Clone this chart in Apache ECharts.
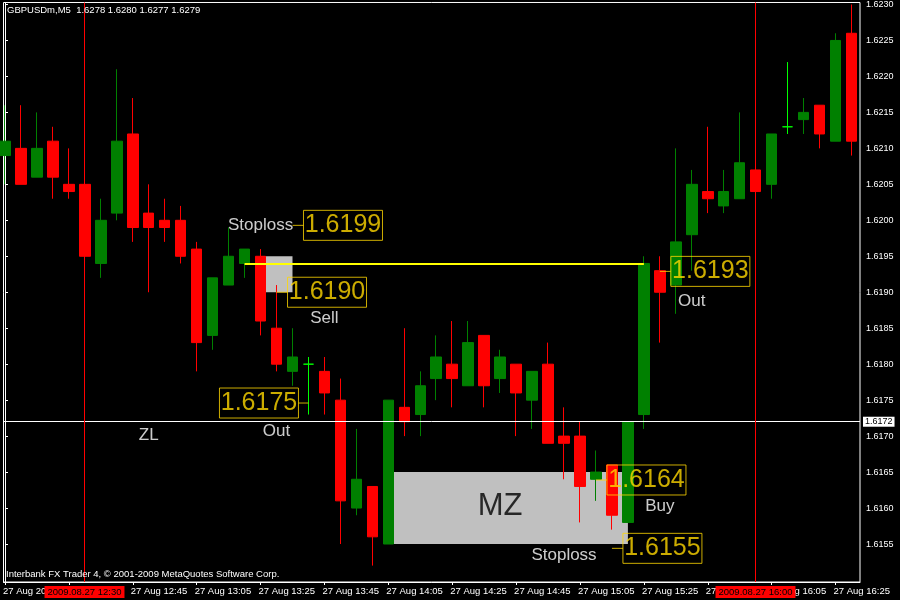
<!DOCTYPE html>
<html><head><meta charset="utf-8">
<script src="https://cdn.jsdelivr.net/npm/echarts@6/dist/echarts.min.js"></script>
<style>html,body{margin:0;padding:0;background:#000;}#chart{width:900px;height:600px;}</style>
</head><body><div id="chart"></div>
<script>
// 5-minute bars, 27 Aug 2009, 12:05 .. 16:30 (index 0..53)
const times = ['12:05','12:10','12:15','12:20','12:25','12:30','12:35','12:40','12:45','12:50','12:55','13:00','13:05','13:10','13:15','13:20','13:25','13:30','13:35','13:40','13:45','13:50','13:55','14:00','14:05','14:10','14:15','14:20','14:25','14:30','14:35','14:40','14:45','14:50','14:55','15:00','15:05','15:10','15:15','15:20','15:25','15:30','15:35','15:40','15:45','15:50','15:55','16:00','16:05','16:10','16:15','16:20','16:25','16:30'];
const opens  = [1.6209,1.6210,1.6206,1.6211,1.6205,1.6205,1.6194,1.6201,1.6212,1.6201,1.6200,1.6200,1.6196,1.6184,1.6191,1.6194,1.6195,1.6185,1.6179,1.6180,1.6179,1.6175,1.6160,1.6163,1.6155,1.6174,1.6173,1.6178,1.6180,1.6177,1.6184,1.6178,1.6180,1.6175,1.6180,1.6170,1.6170,1.6164,1.6166,1.6158,1.6173,1.6193,1.6191,1.6198,1.6204,1.6202,1.6203,1.6207,1.6205,1.6213,1.6214,1.6216,1.6211,1.6226];
const closes = [1.6211,1.6205,1.6210,1.6206,1.6204,1.6195,1.6200,1.6211,1.6199,1.6199,1.6199,1.6195,1.6183,1.6192,1.6195,1.6196,1.6186,1.6180,1.6181,1.6180,1.6176,1.6161,1.6164,1.6156,1.6175,1.6172,1.6177,1.6181,1.6178,1.6183,1.6177,1.6181,1.6176,1.6179,1.6169,1.6169,1.6163,1.6165,1.6159,1.6172,1.6194,1.6190,1.6197,1.6205,1.6203,1.6204,1.6208,1.6204,1.6212,1.6213,1.6215,1.6212,1.6225,1.6211];
const lows   = [1.6205,1.6205,1.6206,1.6203,1.6203,1.6193,1.6192,1.6200,1.6197,1.6190,1.6197,1.6194,1.6179,1.6182,1.6191,1.6192,1.6184,1.6179,1.6177,1.6173,1.6173,1.6155,1.6159,1.6152,1.6155,1.6170,1.6170,1.6175,1.6174,1.6177,1.6174,1.6176,1.6170,1.6171,1.6169,1.6164,1.6158,1.6161,1.6157,1.6158,1.6171,1.6183,1.6187,1.6193,1.6201,1.6201,1.6203,1.6203,1.6203,1.6212,1.6212,1.6210,1.6211,1.6209];
const highs  = [1.6216,1.6216,1.6215,1.6213,1.6210,1.6206,1.6203,1.6221,1.6217,1.6205,1.6203,1.6202,1.6197,1.6192,1.6199,1.6196,1.6196,1.6191,1.6185,1.6181,1.6181,1.6178,1.6171,1.6163,1.6175,1.6185,1.6179,1.6184,1.6186,1.6186,1.6184,1.6182,1.6180,1.6179,1.6183,1.6174,1.6172,1.6168,1.6166,1.6172,1.6195,1.6195,1.6210,1.6207,1.6213,1.6207,1.6215,1.6208,1.6212,1.6222,1.6217,1.6216,1.6226,1.6230];

// axis ticks / labels
const xTickIdx = [0,4,8,12,16,20,24,28,32,36,40,44,48,52];
const xTickLabels = ['27 Aug 2009','27 Aug 12:25','27 Aug 12:45','27 Aug 13:05','27 Aug 13:25','27 Aug 13:45','27 Aug 14:05','27 Aug 14:25','27 Aug 14:45','27 Aug 15:05','27 Aug 15:25','27 Aug 15:45','27 Aug 16:05','27 Aug 16:25'];
const yTicks = [1.6155,1.6160,1.6165,1.6170,1.6175,1.6180,1.6185,1.6190,1.6195,1.6200,1.6205,1.6210,1.6215,1.6220,1.6225,1.6230];

// chart objects
const vLineIdx = [47, 5];
const vLineText = ['2009.08.27 16:00', '2009.08.27 12:30'];
const currentPrice = 1.6172;
const zones = [ // [fromIdx, topPrice, toIdx, bottomPrice]
  [16, 1.6195, 18, 1.6190],
  [24, 1.6165, 39, 1.6155]
];
const trendLine = [15, 40, 1.6194];
const noteText  = ['Stoploss','Sell','Out','ZL','Out','Buy','Stoploss'];
const noteIdx   = [16, 20, 17, 9, 43, 41, 35];
const notePrice = [1.61993, 1.61864, 1.61707, 1.61701, 1.61887, 1.61603, 1.61534];
const zoneLabel = {text: 'MZ', idx: 31, price: 1.61602};
const priceLabelText  = ['1.6199','1.6190','1.6175','1.6193','1.6164','1.6155'];
const priceLabelIdx   = [18, 17, 19, 41, 37, 38];
const priceLabelPrice = [1.61993, 1.6190, 1.61746, 1.61929, 1.61639, 1.61544];
const priceLabelSide  = ['right','right','left','right','right','right'];

const GOLD = '#FFD700';
const UI_FONT = 'Tahoma, "Liberation Sans", Arial, sans-serif';
const TXT_FONT = '"Liberation Sans", Arial, sans-serif';

const candleData = times.map((t, i) => [i, opens[i], closes[i], lows[i], highs[i]]);

const annotations = noteText.map((t, i) => ({
  value: [noteIdx[i], notePrice[i]],
  symbolSize: 0,
  label: {show: true, position: 'inside', formatter: t, color: '#fff', fontSize: 17, fontFamily: TXT_FONT}
}));
annotations.push({
  value: [zoneLabel.idx, zoneLabel.price],
  symbolSize: 0,
  label: {show: true, position: 'inside', formatter: zoneLabel.text, color: '#000', fontSize: 31, fontFamily: TXT_FONT}
});
priceLabelText.forEach((t, i) => {
  const right = priceLabelSide[i] === 'right';
  annotations.push({
    value: [priceLabelIdx[i], priceLabelPrice[i]],
    symbol: 'rect',
    symbolSize: [right ? 11 : 10, 1],
    symbolOffset: [right ? 5.5 : -5, 0],
    itemStyle: {color: GOLD},
    label: {
      show: true, position: right ? 'right' : 'left', distance: 0,
      formatter: '{p|' + t + '}',
      borderColor: GOLD, borderWidth: 1, padding: 0,
      rich: {p: {color: GOLD, fontSize: 25, fontFamily: UI_FONT, width: 79, height: 30, lineHeight: 30, align: 'center', verticalAlign: 'middle'}}
    }
  });
});

const chart = echarts.init(document.getElementById('chart'), null, {renderer: 'canvas'});
chart.setOption({
  backgroundColor: '#000',
  animation: false,
  grid: {left: 2, right: 40, top: 2, bottom: 18, show: true, borderColor: '#fff', borderWidth: 1, backgroundColor: '#000'},
  xAxis: {
    type: 'value', min: -0.09375, max: 53.53125,
    splitLine: {show: false},
    axisLine: {show: true, onZero: false, lineStyle: {color: '#fff', width: 1}},
    axisTick: {show: true, customValues: xTickIdx, length: 3, lineStyle: {color: '#fff'}},
    axisLabel: {show: true, customValues: xTickIdx, formatter: v => xTickLabels[Math.round(v / 4)],
      color: '#fff', fontSize: 9.5, fontFamily: UI_FONT, align: 'left', margin: 4, padding: [0, 0, 0, -2]}
  },
  yAxis: {
    type: 'value', position: 'right', min: 1.614972, max: 1.623028, scale: true,
    splitLine: {show: false},
    axisLine: {show: true, lineStyle: {color: '#fff', width: 1}},
    axisTick: {show: true, customValues: yTicks, length: 3, lineStyle: {color: '#fff'}},
    axisLabel: {show: true, customValues: yTicks, formatter: v => v.toFixed(4),
      color: '#fff', fontSize: 9, fontFamily: UI_FONT, margin: 6}
  },
  graphic: [
    {type: 'text', left: 7, top: 5, z: 100, style: {text: 'GBPUSDm,M5  1.6278 1.6280 1.6277 1.6279', fill: '#fff', font: '9.5px ' + UI_FONT}},
    {type: 'text', left: 6, top: 569, z: 100, style: {text: 'Interbank FX Trader 4, \u00A9 2001-2009 MetaQuotes Software Corp.', fill: '#fff', font: '9.5px ' + UI_FONT}}
  ],
  series: [
    {
      type: 'line', data: [], z: 1, silent: true,
      markArea: {
        silent: true, itemStyle: {color: '#C0C0C0'}, label: {show: false},
        data: zones.map(z => [{coord: [z[0], z[1]]}, {coord: [z[2], z[3]]}])
      },
      markLine: {
        silent: true, precision: 5, symbol: ['none', 'none'], label: {show: false},
        lineStyle: {color: '#FFFF00', width: 2, type: 'solid'},
        data: [[{coord: [trendLine[0], trendLine[2]]}, {coord: [trendLine[1], trendLine[2]]}]]
      }
    },
    {
      type: 'candlestick', z: 2, silent: true, barWidth: 11, clip: true,
      encode: {x: 0, y: [1, 2, 3, 4]},
      data: candleData,
      itemStyle: {color: '#008000', color0: '#FF0000', borderColor: '#008000', borderColor0: '#FF0000', borderColorDoji: '#00FF00', borderWidth: 1}
    },
    {
      type: 'custom', z: 5, silent: true, clip: false,
      encode: {x: 0},
      data: vLineIdx.map(v => [v]),
      renderItem: (params, api) => {
        const cs = params.coordSys;
        const x = Math.floor(api.coord([api.value(0), currentPrice])[0]);
        const yb = cs.y + cs.height;
        return {
          type: 'group',
          children: [
            {type: 'rect', shape: {x: x, y: cs.y, width: 1, height: cs.height}, style: {fill: '#FF0000', stroke: null, opacity: 1}},
            {type: 'text', x: x + 0.5, y: yb + 4, style: {text: vLineText[params.dataIndex], fill: '#000', backgroundColor: '#FF0000', padding: [1, 3, 1, 3], align: 'center', verticalAlign: 'top', font: '9.5px ' + UI_FONT}}
          ]
        };
      }
    },
    {
      type: 'line', data: [], z: 3, silent: true, color: '#FFFFFF',
      markLine: {
        silent: true, precision: 5, symbol: ['none', 'none'],
        lineStyle: {color: '#FFFFFF', width: 1, type: 'solid', opacity: 1},
        emphasis: {disabled: true},
        label: {show: true, position: 'end', distance: 3, formatter: currentPrice.toFixed(4), backgroundColor: '#fff', color: '#000', fontSize: 9, fontFamily: UI_FONT, padding: [1, 2, 0, 2]},
        data: [{yAxis: currentPrice}]
      }
    },
    {
      type: 'scatter', z: 4, silent: true, emphasis: {disabled: true},
      data: annotations
    }
  ]
});
</script></body></html>
